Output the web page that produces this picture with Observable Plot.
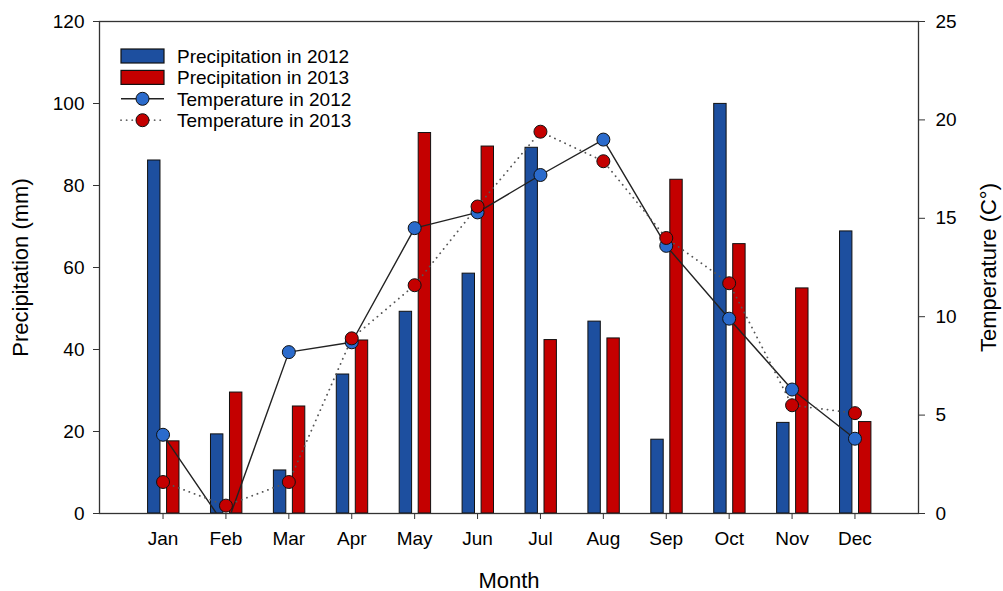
<!DOCTYPE html>
<html><head><meta charset="utf-8">
<script src="https://cdn.jsdelivr.net/npm/d3@7"></script>
<script src="https://cdn.jsdelivr.net/npm/@observablehq/plot@0.6"></script>
<style>
body{margin:0;background:#fff;font-family:"Liberation Sans",Arial,Helvetica,sans-serif;}
#wrap{position:relative;width:1003px;height:591px;}
#legend{position:absolute;left:119px;top:40px;}
</style></head><body><div id="wrap"></div>
<script>
const months = ["Jan","Feb","Mar","Apr","May","Jun","Jul","Aug","Sep","Oct","Nov","Dec"];
const precip2012 = [86.1, 19.3, 10.5, 33.9, 49.2, 58.5, 89.2, 46.8, 18.0, 99.9, 22.1, 68.8];
const precip2013 = [17.6, 29.5, 26.1, 42.2, 92.8, 89.5, 42.3, 42.7, 81.4, 65.7, 54.9, 22.3];
const temp2012 = [4.0, -0.7, 8.2, 8.7, 14.5, 15.3, 17.2, 19.0, 13.6, 9.9, 6.3, 3.8];
const temp2013 = [1.6, 0.4, 1.6, 8.9, 11.6, 15.6, 19.4, 17.9, 14.0, 11.7, 5.5, 5.1];
const precipTicks = [0, 20, 40, 60, 80, 100, 120];
const tempTicks = [0, 5, 10, 15, 20, 25];
const seriesNames = ["Precipitation in 2012", "Precipitation in 2013", "Temperature in 2012", "Temperature in 2013"];

const k = 120 / 25; // temperature -> precipitation axis units
const blue = "#1d4f9f", red = "#c40000", blueDot = "#2b6bcc";
const rows = months.map((m, i) => ({month: m, p12: precip2012[i], p13: precip2013[i], t12: temp2012[i], t13: temp2013[i]}));

const chart = Plot.plot({
  width: 1003, height: 591,
  marginTop: 21, marginBottom: 78, marginLeft: 99, marginRight: 85,
  style: {fontFamily: "'Liberation Sans', Arial, sans-serif", fontSize: "19px", color: "#000", background: "#fff"},
  x: {domain: months, paddingInner: 0, paddingOuter: 0.51, round: false, axis: null},
  y: {domain: [0, 120], axis: null},
  marks: [
    Plot.barY(rows, {x: "month", y: "p12", fill: blue, stroke: "#111", strokeWidth: 1, insetLeft: 16.5, insetRight: 34}),
    Plot.barY(rows, {x: "month", y: "p13", fill: red, stroke: "#111", strokeWidth: 1, insetLeft: 35.5, insetRight: 15}),
    Plot.lineY(rows, {x: "month", y: d => d.t12 * k, stroke: "#222", strokeWidth: 1.4, clip: true}),
    Plot.lineY(rows, {x: "month", y: d => d.t13 * k, stroke: "#555", strokeWidth: 1.8, strokeDasharray: "0.1 5.5", strokeLinecap: "round", clip: true}),
    Plot.dot(rows, {x: "month", y: d => d.t12 * k, r: 6.5, fill: blueDot, stroke: "#111", strokeWidth: 1, clip: true}),
    Plot.dot(rows, {x: "month", y: d => d.t13 * k, r: 6.5, fill: red, stroke: "#111", strokeWidth: 1, clip: true}),
    Plot.frame({stroke: "#333", strokeWidth: 1.3}),
    Plot.axisY(precipTicks, {anchor: "left", tickSize: 6, tickPadding: 9, label: "Precipitation (mm)", labelAnchor: "center", labelOffset: 87, labelArrow: "none", stroke: "#333"}),
    Plot.axisY(tempTicks.map(t => t * k), {anchor: "right", tickSize: 6, tickPadding: 11, tickFormat: (d, i) => tempTicks[i], label: "Temperature (C°)", labelAnchor: "center", labelOffset: 77, labelArrow: "none", stroke: "#333"}),
    Plot.axisX({anchor: "bottom", tickSize: 6, tickPadding: 12, label: "Month", labelAnchor: "center", labelOffset: 74, labelArrow: "none", stroke: "#333"})
  ]
});
document.getElementById("wrap").appendChild(chart);
chart.querySelectorAll('[aria-label$="axis label"] text, [aria-label$="axis label"]').forEach(el => {
  if (el.tagName === "text" || el.tagName === "g") el.style.fontSize = "22px";
});

// Legend
const lg = d3.select("#wrap").append("svg").attr("id", "legend").attr("width", 290).attr("height", 100)
  .style("font-family", "'Liberation Sans', Arial, sans-serif").style("font-size", "19px");
seriesNames.forEach((name, i) => {
  const cy = 16 + 21.4 * i;
  const g = lg.append("g");
  if (i < 2) {
    g.append("rect").attr("x", 2).attr("y", cy - 7).attr("width", 43).attr("height", 14)
      .attr("fill", i === 0 ? blue : red).attr("stroke", "#111").attr("stroke-width", 1.2);
  } else {
    g.append("line").attr("x1", 2).attr("x2", 45).attr("y1", cy).attr("y2", cy)
      .attr("stroke", i === 2 ? "#222" : "#666").attr("stroke-width", i === 2 ? 1.4 : 1.8)
      .attr("stroke-dasharray", i === 2 ? null : "0.1 5.5").attr("stroke-linecap", i === 2 ? null : "round");
    g.append("circle").attr("cx", 23.5).attr("cy", cy).attr("r", 6.5)
      .attr("fill", i === 2 ? blueDot : red).attr("stroke", "#111");
  }
  g.append("text").attr("x", 58).attr("y", cy + 7).text(name);
});
</script></body></html>
